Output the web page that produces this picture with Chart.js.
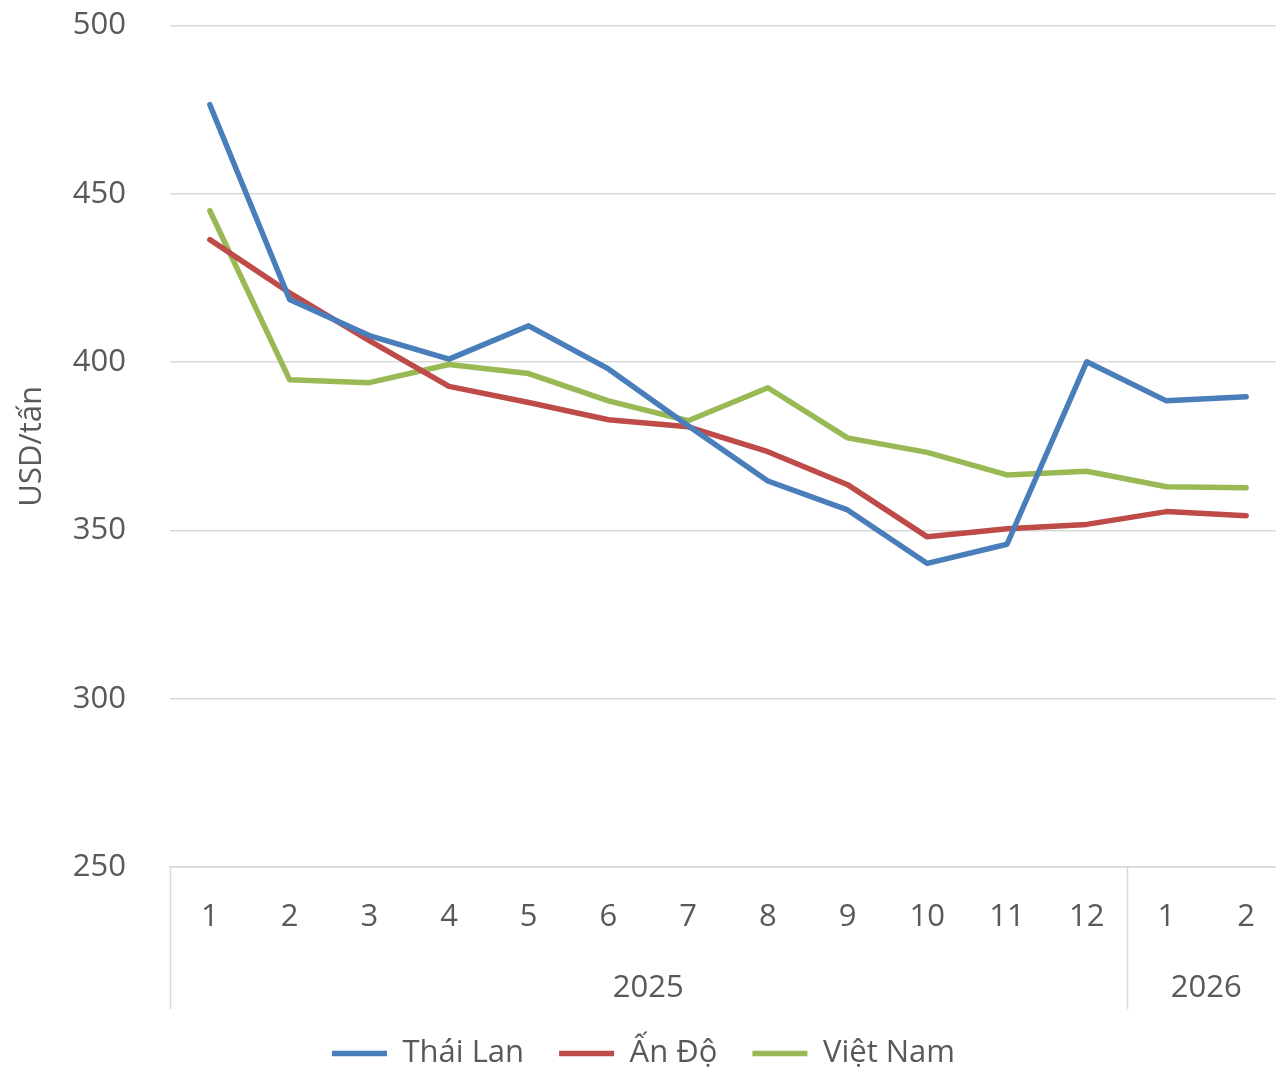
<!DOCTYPE html>
<html>
<head>
<meta charset="utf-8">
<script src="https://cdn.jsdelivr.net/npm/chart.js@4.4.1/dist/chart.umd.min.js"></script>
<style>
    html, body { margin: 0; padding: 0; background: #fff; overflow: hidden; }
    #wrap { width: 1287px; height: 1116px; margin-top: -37px; }
</style>
</head>
<body>
<div id="wrap"><canvas id="chartGia"></canvas></div>
<script>
const thang = ["1", "2", "3", "4", "5", "6", "7", "8", "9", "10", "11", "12", "1", "2"];
const nam = ["2025", "2026"];
const soThang = [12, 2];
const thaiLan = [476.5, 418.6, 407.9, 400.9, 410.8, 398, 381.1, 364.7, 356.1, 340.2, 345.9, 400.1, 388.5, 389.7];
const anDo = [436.4, 420.6, 406.4, 392.8, 388, 382.9, 380.8, 373.4, 363.6, 348.1, 350.5, 351.8, 355.6, 354.4];
const vietNam = [445, 394.8, 393.9, 399.3, 396.6, 388.5, 382.6, 392.4, 377.5, 373.2, 366.5, 367.6, 363, 362.7];

const mauChu = "#595959";
const mauLuoi = "#d9d9d9";
const font = '"Open Sans", sans-serif';

// hang nam (2025 / 2026) va vach ngan duoi truc x
const nhomNam = {
    id: "nhomNam",
    afterDraw(chart) {
        const x = chart.scales.x;
        const ctx = chart.ctx;
        const half = (x.getPixelForValue(1) - x.getPixelForValue(0)) / 2;
        let start = 0;
        ctx.save();
        ctx.strokeStyle = mauLuoi;
        ctx.lineWidth = 1.5;
        ctx.fillStyle = mauChu;
        ctx.font = "31px " + font;
        ctx.textAlign = "center";
        ctx.textBaseline = "middle";
        nam.forEach((n, i) => {
            const left = x.getPixelForValue(start) - half;
            const right = x.getPixelForValue(start + soThang[i] - 1) + half;
            ctx.beginPath();
            ctx.moveTo(Math.round(left) + 0.5, x.top);
            ctx.lineTo(Math.round(left) + 0.5, x.top + 142);
            ctx.stroke();
            ctx.fillText(n, (left + right) / 2, x.top + 121);
            start += soThang[i];
        });
        ctx.restore();
    },
};

const duLieu = {
    labels: thang,
    datasets: [
        { label: "Thái Lan", data: thaiLan, borderColor: "#4a7ebb", backgroundColor: "#4a7ebb" },
        { label: "Ấn Độ", data: anDo, borderColor: "#be4b48", backgroundColor: "#be4b48" },
        { label: "Việt Nam", data: vietNam, borderColor: "#98b954", backgroundColor: "#98b954" },
    ].map((d) => Object.assign(d, {
        borderWidth: 5.5,
        borderCapStyle: "round",
        borderJoinStyle: "round",
        pointRadius: 0,
        pointHoverRadius: 0,
        tension: 0,
        pointStyle: "line",
    })),
};

new Chart(document.getElementById("chartGia"), {
    type: "line",
    data: duLieu,
    plugins: [nhomNam],
    options: {
        responsive: true,
        maintainAspectRatio: false,
        animation: false,
        layout: { padding: { top: 25, right: 0, left: 0, bottom: 0 } },
        plugins: {
            tooltip: { enabled: false },
            legend: {
                position: "bottom",
                labels: {
                    usePointStyle: true,
                    pointStyleWidth: 55,
                    boxHeight: 31,
                    padding: 35,
                    color: mauChu,
                    font: { family: font, size: 31 },
                },
            },
        },
        scales: {
            x: {
                offset: true,
                grid: { display: false, drawTicks: false },
                border: { display: true, color: mauLuoi, width: 1.5 },
                ticks: {
                    color: mauChu,
                    padding: 32,
                    maxRotation: 0,
                    autoSkip: false,
                    font: { family: font, size: 31 },
                },
                afterFit(scale) { scale.height = 136; },
            },
            y: {
                min: 250,
                max: 500,
                ticks: {
                    stepSize: 50,
                    color: mauChu,
                    padding: 44,
                    font: { family: font, size: 31 },
                },
                grid: { color: mauLuoi, lineWidth: 1.5, drawTicks: false },
                border: { display: false },
                title: {
                    display: true,
                    text: "USD/tấn",
                    color: mauChu,
                    padding: { top: 14, bottom: 0 },
                    font: { family: font, size: 31 },
                },
                afterFit(scale) { scale.width = 170; },
            },
        },
    },
});
</script>
</body>
</html>
